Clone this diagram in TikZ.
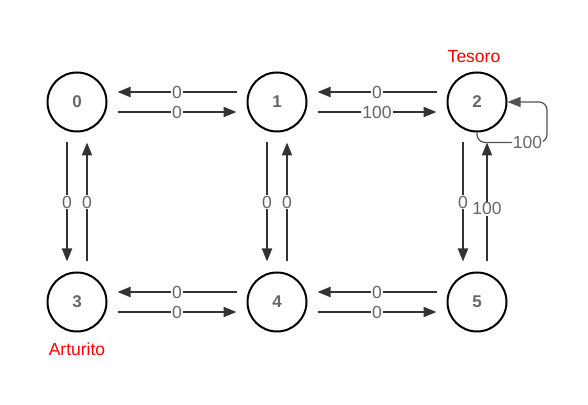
\documentclass[tikz,border=0pt]{standalone}
\usepackage{fontspec}
\setmainfont{Liberation Sans}
\usepackage{xcolor}
\usetikzlibrary{arrows.meta}
\usetikzlibrary{positioning}
\definecolor{edgegray}{HTML}{333333}
\definecolor{textgray}{HTML}{666666}
\definecolor{namered}{HTML}{FF0000}
\begin{document}
\begin{tikzpicture}[x=1pt,y=1pt,
	state/.style={circle, draw=black, line width=2pt, minimum size=59pt, inner sep=0pt, text=textgray, font=\fontsize{17}{20}\selectfont\bfseries},
	edge/.style={draw=edgegray, line width=2pt, -{Triangle[length=13pt,width=10pt]}, shorten >=10pt, shorten <=10pt},
	loopedge/.style={draw=edgegray!85, line width=1.2pt, rounded corners=8pt, -{Triangle[length=13pt,width=10pt]}},
	lbl/.style={fill=white, inner sep=1pt, text=textgray, font=\fontsize{17.5}{20}\selectfont},
	playername/.style={inner sep=0pt, text=namered, font=\fontsize{17.5}{20}\selectfont}]

	\useasboundingbox (0,0) rectangle (588,404);

	% States
	\node[state] (n0) at (77,302) {0};
	\node[state] (n1) at (277,302) {1};
	\node[state] (n2) at (477,302) {2};
	\node[state] (n3) at (77,102) {3};
	\node[state] (n4) at (277,102) {4};
	\node[state] (n5) at (477,102) {5};

	% Names
	\node[playername, above=9pt of n2, xshift=-3pt] (tesoro) {Tesoro};
	\node[playername, below=10pt of n3] (arturito) {Arturito};

	% Top row
	\draw[edge] ([yshift=10]n1.west) -- node[lbl] {0} ([yshift=10]n0.east);
	\draw[edge] ([yshift=-10]n0.east) -- node[lbl] {0} ([yshift=-10]n1.west);
	\draw[edge] ([yshift=10]n2.west) -- node[lbl] {0} ([yshift=10]n1.east);
	\draw[edge] ([yshift=-10]n1.east) -- node[lbl] {100} ([yshift=-10]n2.west);

	% Bottom row
	\draw[edge] ([yshift=10]n4.west) -- node[lbl] {0} ([yshift=10]n3.east);
	\draw[edge] ([yshift=-10]n3.east) -- node[lbl] {0} ([yshift=-10]n4.west);
	\draw[edge] ([yshift=10]n5.west) -- node[lbl] {0} ([yshift=10]n4.east);
	\draw[edge] ([yshift=-10]n4.east) -- node[lbl] {0} ([yshift=-10]n5.west);

	% Columns
	\draw[edge] ([xshift=-10]n0.south) -- node[lbl] {0} ([xshift=-10]n3.north);
	\draw[edge] ([xshift=10]n3.north) -- node[lbl] {0} ([xshift=10]n0.south);
	\draw[edge] ([xshift=-10]n1.south) -- node[lbl] {0} ([xshift=-10]n4.north);
	\draw[edge] ([xshift=10]n4.north) -- node[lbl] {0} ([xshift=10]n1.south);
	\draw[edge] ([xshift=-14]n2.south) -- node[lbl] {0} ([xshift=-14]n5.north);
	\draw[edge] ([xshift=10]n5.north) -- node[lbl, pos=.45] {100} ([xshift=10]n2.south);

	% Self loop
	\coordinate (loopc) at ([xshift=70,yshift=-10]n2.south);
	\draw[loopedge] (n2.south) |- node[lbl, pos=.86] {100} (loopc) |- (n2.east);

\end{tikzpicture}
\end{document}
